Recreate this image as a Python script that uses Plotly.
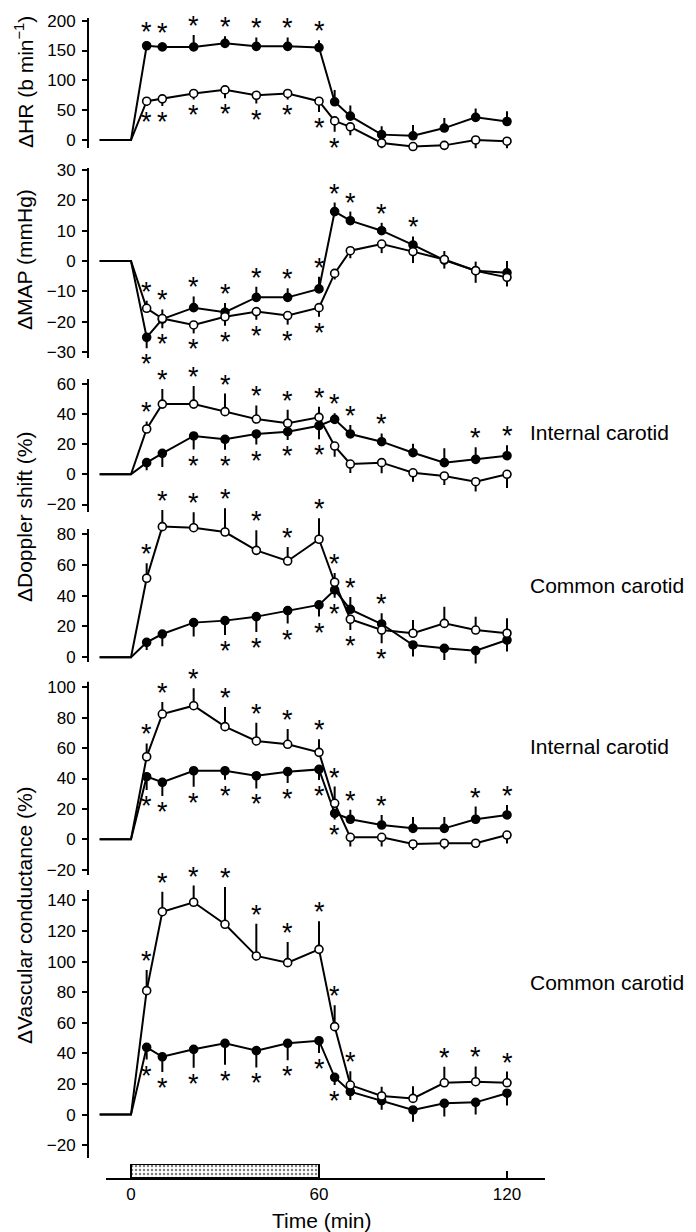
import plotly.graph_objects as go

W, H = 696, 1232

# ---------------- data ----------------
base_t = [-10, 0]          # pre-infusion baseline times (min)
base_v = [0, 0]            # baseline change (zero)
t = [5, 10, 20, 30, 40, 50, 60, 65, 70, 80, 90, 100, 110, 120]
stim_start, stim_end = 0, 60
x_ticks = [0, 60, 120]

# ΔHR (b/min)
hr_f = [158, 156, 156, 162, 157, 157, 155, 64, 40, 9, 7, 20, 38, 31]
hr_f_up = [8, 8, 20, 12, 15, 15, 12, 20, 18, 14, 18, 17, 15, 17]
hr_f_dn = [0] * 14
hr_f_sig = [1, 1, 1, 1, 1, 1, 1, 0, 0, 0, 0, 0, 0, 0]
hr_o = [65, 69, 78, 84, 75, 78, 65, 32, 22, -5, -11, -9, 0, -2]
hr_o_up = [0] * 14
hr_o_dn = [8, 12, 10, 14, 14, 10, 18, 18, 14, 17, 17, 21, 17, 16]
hr_o_sig = [-1, -1, -1, -1, -1, -1, -1, -1, 0, 0, 0, 0, 0, 0]

# ΔMAP (mmHg)
map_f = [-25.2, -19.2, -15.4, -16.9, -12, -12, -9.2, 16.3, 13.3, 10, 5.3, 0.3, -3.2, -3.9]
map_f_up = [0, 0, 3.7, 3, 3.5, 3, 4, 3, 3, 2.6, 2.8, 3, 3, 3.9]
map_f_dn = [3.6, 3, 0, 0, 0, 0, 0, 0, 0, 0, 0, 0, 0, 0]
map_f_sig = [-1, -1, 1, 1, 1, 1, 1, 1, 1, 1, 1, 0, 0, 0]
map_o = [-15.6, -19, -21.1, -18.4, -16.7, -18, -15.4, -4.1, 3.4, 5.6, 3.1, 0.5, -3.2, -5.4]
map_o_up = [2.5, 3, 0, 0, 0, 0, 0, 0, 0, 0, 0, 0, 0, 0]
map_o_dn = [0, 0, 2.8, 3, 2.7, 3, 3, 2, 2.5, 3, 3.8, 3, 4, 3]
map_o_sig = [1, 1, -1, -1, -1, -1, -1, 0, 0, 0, 0, 0, 0, 0]

# ΔDoppler shift (%), internal carotid
dic_f = [7.7, 13.9, 25.4, 23.2, 26.7, 28.2, 32.2, 36.4, 26.7, 21.6, 14.3, 7.7, 9.9, 12.3]
dic_f_up = [0, 0, 0, 0, 0, 0, 0, 4, 6, 5.5, 6, 9.5, 8, 7]
dic_f_dn = [5, 9, 9, 7, 7, 5.5, 9, 0, 0, 0, 0, 0, 0, 0]
dic_f_sig = [0, 0, -1, -1, -1, -1, -1, 1, 1, 1, 0, 0, 1, 1]
dic_o = [30, 46.5, 46.5, 41.5, 36.6, 33.8, 37.7, 18.7, 6.8, 7.7, 1, -1.1, -4.9, 0]
dic_o_up = [5, 10, 12, 12, 9, 9, 7, 0, 0, 0, 0, 0, 0, 0]
dic_o_dn = [0, 0, 0, 0, 0, 0, 0, 7, 6, 7, 6, 6, 6.5, 9]
dic_o_sig = [1, 1, 1, 1, 1, 1, 1, 0, 0, 0, 0, 0, 0, 0]

# ΔDoppler shift (%), common carotid
dcc_f = [9.7, 15.1, 22.5, 23.8, 26.4, 30.3, 34, 43.7, 31.1, 21.6, 8, 5.8, 4.3, 11.2]
dcc_f_up = [0, 0, 0, 0, 0, 0, 0, 0, 8, 7, 0, 0, 0, 0]
dcc_f_dn = [5, 8, 9, 9.3, 10, 8.4, 7.6, 5, 0, 0, 7.5, 7.5, 9.3, 7.5]
dcc_f_sig = [0, 0, 0, -1, -1, -1, -1, -1, 1, 1, 0, 0, 0, 0]
dcc_o = [51.3, 84.8, 84.1, 81.3, 69.4, 62.5, 76.6, 48.7, 24.7, 17.7, 15.6, 22, 17.7, 15.6]
dcc_o_up = [9.7, 10.8, 10, 15.4, 13, 9, 13.7, 6, 0, 0, 8.6, 10.8, 8.6, 9.7]
dcc_o_dn = [0, 0, 0, 0, 0, 0, 0, 0, 7, 8.6, 0, 0, 0, 0]
dcc_o_sig = [1, 1, 1, 1, 1, 1, 1, 1, -1, -1, 0, 0, 0, 0]

# ΔVascular conductance (%), internal carotid
vic_f = [41.2, 37.5, 45.1, 45.1, 41.8, 44.5, 46, 17.1, 13.2, 9.4, 7.2, 7.2, 13.2, 16]
vic_f_up = [0, 0, 0, 0, 0, 0, 0, 0, 6.3, 6.6, 7.5, 7.5, 8.3, 6.6]
vic_f_dn = [8.8, 9, 10.5, 6, 8.3, 7.5, 7, 4, 0, 0, 0, 0, 0, 0]
vic_f_sig = [-1, -1, -1, -1, -1, -1, -1, -1, 1, 1, 0, 0, 1, 1]
vic_o = [54.3, 82.4, 87.9, 74.1, 64.7, 62.5, 57.2, 23.7, 1.3, 1.3, -3.1, -2.6, -2.6, 2.8]
vic_o_up = [8.8, 8, 11.4, 13, 12, 10, 8.6, 11, 0, 0, 0, 0, 0, 0]
vic_o_dn = [0, 0, 0, 0, 0, 0, 0, 0, 6, 6, 4, 4, 3, 5.5]
vic_o_sig = [1, 1, 1, 1, 1, 1, 1, 1, 0, 0, 0, 0, 0, 0]

# ΔVascular conductance (%), common carotid
vcc_f = [44, 37.8, 42.7, 46.6, 41.8, 46.6, 48.3, 24.4, 15, 9.1, 3, 7.4, 8, 14]
vcc_f_up = [0] * 14
vcc_f_dn = [8, 10, 12, 14, 11, 11, 8, 5, 5.5, 6, 7.6, 8.7, 8, 8]
vcc_f_sig = [-1, -1, -1, -1, -1, -1, -1, -1, 0, 0, 0, 0, 0, 0]
vcc_o = [81, 132.6, 138.8, 124.4, 103.7, 99.3, 108, 57.5, 19.3, 12.2, 10.6, 20.8, 21.5, 20.8]
vcc_o_up = [13.5, 13, 10.9, 24.3, 21, 13.5, 18.3, 14, 9, 6, 8, 10.5, 10, 7.3]
vcc_o_dn = [0] * 14
vcc_o_sig = [1, 1, 1, 1, 1, 1, 1, 1, 1, 0, 0, 1, 1, 1]

hr_ticks = [0, 50, 100, 150, 200]
map_ticks = [-30, -20, -10, 0, 10, 20, 30]
dic_ticks = [-20, 0, 20, 40, 60]
dcc_ticks = [0, 20, 40, 60, 80]
vic_ticks = [-20, 0, 20, 40, 60, 80, 100]
vcc_ticks = [-20, 0, 20, 40, 60, 80, 100, 120, 140]

# ---------------- layout geometry (pixels) ----------------
FONT = "Liberation Sans"
X0PX, PXMIN = 131.0, 3.1333          # pixel of t=0, pixels per minute
AX_L, AX_R = 88, 545                  # y-axis line position / right end
BOT_L = 106                           # start of bottom time axis line

# zero pixel, pixels per unit, drawn axis-line extent, plotting range
panels = [
    dict(f=(hr_f, hr_f_up, hr_f_dn, hr_f_sig), o=(hr_o, hr_o_up, hr_o_dn, hr_o_sig),
         p0=140.0, ppu=0.5966, line=(-13.4, 204.5), rng=(-14, 215), ticks=hr_ticks),
    dict(f=(map_f, map_f_up, map_f_dn, map_f_sig), o=(map_o, map_o_up, map_o_dn, map_o_sig),
         p0=261.0, ppu=3.03, line=(-32, 30.7), rng=(-34, 32), ticks=map_ticks),
    dict(f=(dic_f, dic_f_up, dic_f_dn, dic_f_sig), o=(dic_o, dic_o_up, dic_o_dn, dic_o_sig),
         p0=474.3, ppu=1.51, line=(-25, 63.1), rng=(-26, 70), ticks=dic_ticks),
    dict(f=(dcc_f, dcc_f_up, dcc_f_dn, dcc_f_sig), o=(dcc_o, dcc_o_up, dcc_o_dn, dcc_o_sig),
         p0=657.3, ppu=1.541, line=(-3, 83.3), rng=(-4, 105), ticks=dcc_ticks),
    dict(f=(vic_f, vic_f_up, vic_f_dn, vic_f_sig), o=(vic_o, vic_o_up, vic_o_dn, vic_o_sig),
         p0=839.3, ppu=1.52, line=(-23.5, 103.7), rng=(-25, 110), ticks=vic_ticks),
    dict(f=(vcc_f, vcc_f_up, vcc_f_dn, vcc_f_sig), o=(vcc_o, vcc_o_up, vcc_o_dn, vcc_o_sig),
         p0=1114.6, ppu=1.53, line=(-28.4, 146.8), rng=(-30, 165), ticks=vcc_ticks),
]

def yfrac(px):
    return 1 - px / H

x_range = [(AX_L - X0PX) / PXMIN, (AX_R - X0PX) / PXMIN]
xb_range = [(BOT_L - X0PX) / PXMIN, (AX_R - X0PX) / PXMIN]

fig = go.Figure()
annotations = []
shapes = []
layout = dict(
    width=W, height=H, margin=dict(l=0, r=0, t=0, b=0),
    paper_bgcolor="white", plot_bgcolor="rgba(0,0,0,0)",
    showlegend=False, font=dict(family=FONT, color="black"),
)

nb = len(base_t)
for k, p in enumerate(panels, start=1):
    xa = "x" if k == 1 else f"x{k}"
    ya = "y" if k == 1 else f"y{k}"
    for key, fill in (("f", "black"), ("o", "white")):
        vals, up, dn, sig = p[key]
        fig.add_trace(go.Scatter(
            x=base_t + t, y=base_v + vals, xaxis=xa, yaxis=ya,
            mode="lines+markers", cliponaxis=False,
            line=dict(color="black", width=2),
            marker=dict(size=[0] * nb + [8] * len(t), color=fill, opacity=1,
                        line=dict(color="black", width=[0] * nb + [1.6] * len(t))),
            error_y=dict(type="data", symmetric=False,
                         array=[0] * nb + up, arrayminus=[0] * nb + dn,
                         width=0, thickness=2, color="black"),
            hoverinfo="skip",
        ))
        for ti, v, u, d, s in zip(t, vals, up, dn, sig):
            if s == 0:
                continue
            annotations.append(dict(
                x=ti, y=(v + u) if s > 0 else (v - d), xref=xa, yref=ya,
                text="*", showarrow=False, xanchor="center", yanchor="middle",
                yshift=9 if s > 0 else -16,
                font=dict(family=FONT, size=27, color="black"),
            ))
    lo, hi = p["rng"]
    px_top = p["p0"] - hi * p["ppu"]
    px_bot = p["p0"] - lo * p["ppu"]
    layout["xaxis" if k == 1 else f"xaxis{k}"] = dict(
        domain=[AX_L / W, AX_R / W], range=x_range, visible=False,
        anchor=ya, fixedrange=True)
    layout["yaxis" if k == 1 else f"yaxis{k}"] = dict(
        domain=[yfrac(px_bot), yfrac(px_top)], range=[lo, hi],
        anchor=xa, showline=False,
        ticks="outside", ticklen=5, tickwidth=2, tickcolor="black",
        tickvals=p["ticks"], showgrid=False, zeroline=False,
        tickfont=dict(family=FONT, size=17, color="black"),
        ticklabelstandoff=3, automargin=False)
    # visible y-axis spine (shorter than the plotting range)
    shapes.append(dict(type="line", xref="paper", yref=ya,
                       x0=AX_L / W, x1=AX_L / W, y0=p["line"][0], y1=p["line"][1],
                       line=dict(color="black", width=2)))

# stimulus bar + time axis
fig.add_trace(go.Bar(
    orientation="h", y=[0.5], x=[stim_end - stim_start], base=[stim_start], width=[1],
    xaxis="x7", yaxis="y7",
    marker=dict(color="white", line=dict(color="black", width=2),
                pattern=dict(shape=".", fgcolor="black", bgcolor="white", size=4, solidity=0.3)),
    hoverinfo="skip",
))
layout["xaxis7"] = dict(
    domain=[BOT_L / W, AX_R / W], range=xb_range, anchor="y7",
    showline=True, linecolor="black", linewidth=2, ticks="inside", ticklen=7,
    tickwidth=2, tickcolor="black", tickvals=x_ticks, showgrid=False, zeroline=False,
    tickfont=dict(family=FONT, size=17, color="black"), automargin=False)
layout["yaxis7"] = dict(domain=[yfrac(1178), yfrac(1164)], range=[0, 1], visible=False,
                        anchor="x7", fixedrange=True)

# axis titles
def title(text, xc, yc):
    annotations.append(dict(x=xc / W, y=yfrac(yc), xref="paper", yref="paper",
                            text=text, showarrow=False, textangle=-90,
                            xanchor="center", yanchor="middle",
                            font=dict(family=FONT, size=21, color="black")))

title("ΔHR (b min<sup>−1</sup>)", 24, 82)
title("ΔMAP (mmHg)", 24, 260)
title("ΔDoppler shift (%)", 24, 517)
title("ΔVascular conductance (%)", 24, 915)

annotations.append(dict(x=322 / W, y=yfrac(1220), xref="paper", yref="paper",
                        text="Time (min)", showarrow=False, xanchor="center", yanchor="middle",
                        font=dict(family=FONT, size=21, color="black")))

for txt, yc in (("Internal carotid", 432), ("Common carotid", 585),
                ("Internal carotid", 747), ("Common carotid", 982)):
    annotations.append(dict(x=528 / W, y=yfrac(yc), xref="paper", yref="paper",
                            text=txt, showarrow=False, xanchor="left", yanchor="middle",
                            font=dict(family=FONT, size=21, color="black")))

layout["annotations"] = annotations
layout["shapes"] = shapes
fig.update_layout(**layout)
fig.write_html("out.html")
